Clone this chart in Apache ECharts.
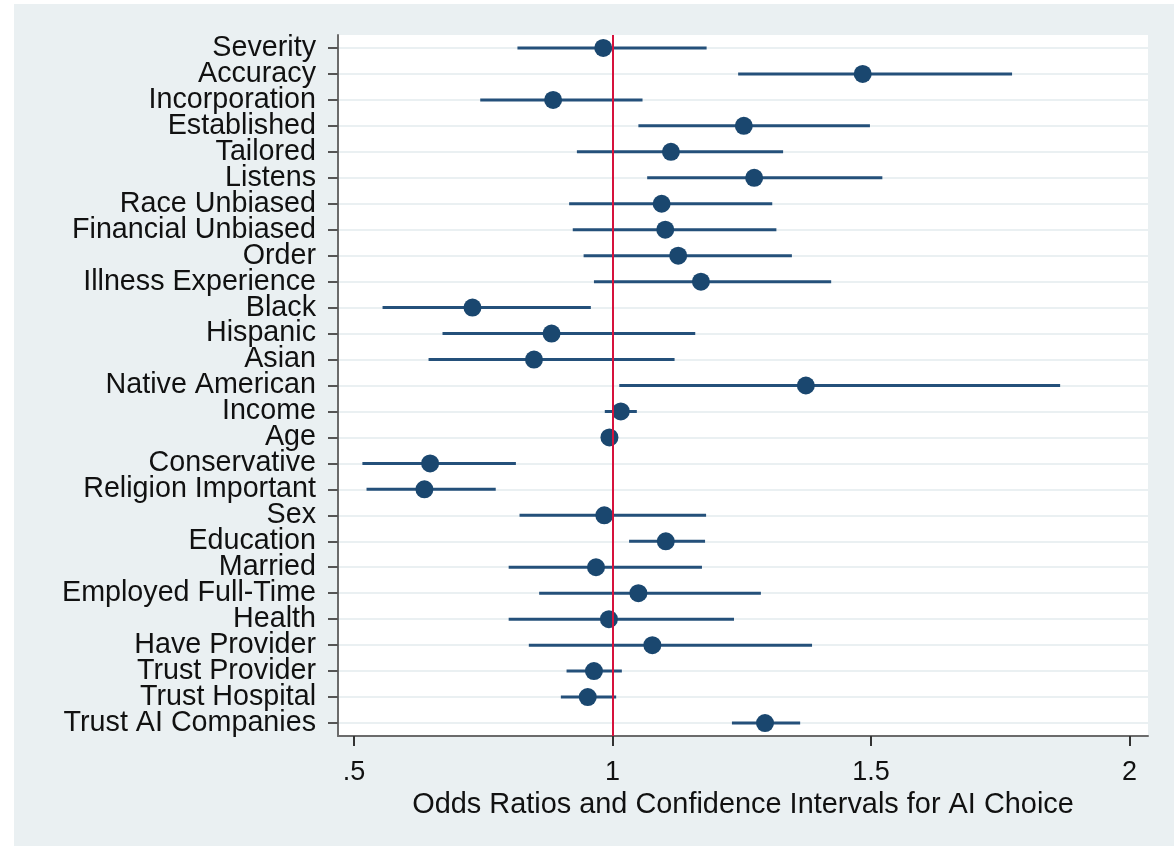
<!DOCTYPE html>
<html>
<head>
<meta charset="utf-8">
<title>Odds Ratios for AI Choice</title>
<script src="https://cdn.jsdelivr.net/npm/echarts@6/dist/echarts.min.js"></script>
<style>
  html, body { margin: 0; padding: 0; background: #ffffff; }
  #chart { width: 1174px; height: 846px; }
</style>
</head>
<body>
<div id="chart"></div>
<script>
// Predictors, top to bottom
const categories = [
  'Severity', 'Accuracy', 'Incorporation', 'Established', 'Tailored', 'Listens',
  'Race Unbiased', 'Financial Unbiased', 'Order', 'Illness Experience',
  'Black', 'Hispanic', 'Asian', 'Native American', 'Income', 'Age',
  'Conservative', 'Religion Important', 'Sex', 'Education', 'Married',
  'Employed Full-Time', 'Health', 'Have Provider', 'Trust Provider',
  'Trust Hospital', 'Trust AI Companies'
];

// Odds ratio point estimates
const oddsRatio = [
  0.982, 1.484, 0.885, 1.254, 1.113, 1.274,
  1.095, 1.102, 1.127, 1.171,
  0.729, 0.882, 0.848, 1.374, 1.016, 0.994,
  0.647, 0.636, 0.984, 1.103, 0.968,
  1.050, 0.993, 1.077, 0.964,
  0.952, 1.295
];

// Lower confidence bounds
const ciLower = [
  0.816, 1.243, 0.744, 1.050, 0.931, 1.067,
  0.916, 0.923, 0.944, 0.964,
  0.555, 0.671, 0.644, 1.013, 0.985, 0.988,
  0.516, 0.524, 0.820, 1.032, 0.799,
  0.858, 0.799, 0.838, 0.911,
  0.900, 1.231
];

// Upper confidence bounds
const ciUpper = [
  1.182, 1.773, 1.058, 1.498, 1.330, 1.522,
  1.309, 1.317, 1.347, 1.423,
  0.958, 1.160, 1.120, 1.866, 1.047, 1.000,
  0.813, 0.774, 1.181, 1.179, 1.173,
  1.287, 1.235, 1.386, 1.018,
  1.007, 1.363
];

// Horizontal axis ticks
const xTickValues = [0.5, 1, 1.5, 2];
const xTickLabels = ['.5', '1', '1.5', '2'];

// Reference line (no effect)
const referenceValue = 1;

const NAVY = '#1a476f';
const FONT = '"Liberation Sans", Arial, Helvetica, sans-serif';

const chart = echarts.init(document.getElementById('chart'), null, { renderer: 'canvas' });

const ciData = categories.map((c, i) => [ciLower[i], ciUpper[i], i]);
const pointData = categories.map((c, i) => [oddsRatio[i], i]);

const option = {
  animation: false,
  backgroundColor: '#ffffff',
  graphic: [{
    type: 'rect',
    z: -10,
    silent: true,
    shape: { x: 14, y: 4, width: 1160, height: 842 },
    style: { fill: '#eaf0f2' }
  }],
  grid: {
    left: 338, top: 35, width: 810, height: 701,
    show: true, backgroundColor: '#ffffff', borderWidth: 0
  },
  xAxis: {
    type: 'value',
    min: 0.4688,
    max: 2.036,
    axisLine: { show: true, onZero: false, lineStyle: { color: '#6b6b6b', width: 2 } },
    axisTick: {
      show: true, length: 10, inside: false,
      customValues: xTickValues,
      lineStyle: { color: '#333333', width: 2 }
    },
    axisLabel: {
      customValues: xTickValues,
      formatter: v => xTickLabels[xTickValues.findIndex(t => Math.abs(t - v) < 1e-9)] ?? '',
      fontFamily: FONT, fontSize: 27, color: '#111111', margin: 23
    },
    splitLine: { show: false },
    name: 'Odds Ratios and Confidence Intervals for AI Choice',
    nameLocation: 'middle',
    nameGap: 52,
    nameTextStyle: { fontFamily: FONT, fontSize: 28.9, color: '#111111' }
  },
  yAxis: {
    type: 'category',
    data: categories,
    inverse: true,
    boundaryGap: true,
    axisLine: { show: true, lineStyle: { color: '#6b6b6b', width: 2 } },
    axisTick: { show: true, alignWithLabel: true, length: 10, lineStyle: { color: '#555555', width: 2 } },
    axisLabel: { fontFamily: FONT, fontSize: 28.7, color: '#111111', margin: 22, interval: 0 },
    splitLine: { show: true, alignWithLabel: true, lineStyle: { color: '#eaf0f2', width: 2 } }
  },
  series: [
    {
      name: 'CI',
      type: 'custom',
      z: 2,
      data: ciData,
      encode: { x: [0, 1], y: 2 },
      renderItem: function (params, api) {
        const a = api.coord([api.value(0), api.value(2)]);
        const b = api.coord([api.value(1), api.value(2)]);
        return {
          type: 'line',
          shape: { x1: a[0], y1: a[1], x2: b[0], y2: b[1] },
          style: { stroke: '#24507a', lineWidth: 3 }
        };
      }
    },
    {
      name: 'Odds ratio',
      type: 'scatter',
      z: 3,
      symbol: 'circle',
      symbolSize: 18,
      itemStyle: { color: NAVY, opacity: 1 },
      data: pointData
    },
    {
      name: 'Reference',
      type: 'line',
      z: 10,
      data: [],
      markLine: {
        silent: true,
        symbol: ['none', 'none'],
        label: { show: false },
        lineStyle: { color: '#d6123c', width: 2, type: 'solid' },
        data: [{ xAxis: referenceValue }]
      }
    }
  ]
};

chart.setOption(option);
</script>
</body>
</html>
